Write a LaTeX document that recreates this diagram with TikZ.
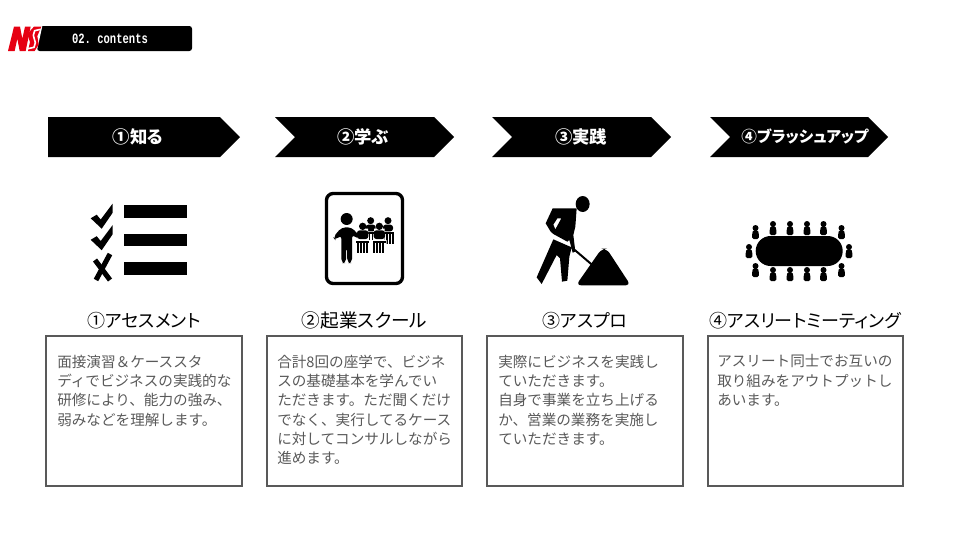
\documentclass[tikz,border=0pt]{standalone}
\usepackage{fontspec}
\setmonofont{Liberation Mono}
\newfontfamily\jpfont[RawFeature=+palt]{Noto Sans CJK JP}
\newfontfamily\jpbody{Noto Sans CJK JP}
\definecolor{boxgray}{HTML}{595959}
\definecolor{logored}{HTML}{E60012}
\tikzset{
  stepbar/.style={fill=black},
  steptitle/.style={text=white,font=\jpfont\fontsize{13pt}{15pt}\selectfont\bfseries},
  headline/.style={font=\jpfont\fontsize{13.5pt}{16pt}\selectfont},
  bodybox/.style={draw=boxgray,line width=1.5pt},
  bodytext/.style={anchor=north west,align=left,text=boxgray,inner sep=0pt,
    font=\jpbody\fontsize{10.95pt}{14.5pt}\selectfont},
  icon/.style={fill=black},
  mark line/.style={draw=black,line width=3.8pt},
  zoomed/.style={x=0.25pt,y=-0.25pt}
}
% small person at the table: x, head y
\newcommand{\seat}[2]{
  \fill[icon] (#1,#2) circle (3);
  \fill[icon,rounded corners=1pt] (#1-2.3,#2+2.2) -- (#1+2.3,#2+2.2) -- (#1+3.3,#2+5) -- (#1+3.3,#2+11) -- (#1-3.3,#2+11) -- (#1-3.3,#2+5) -- cycle;
}
\begin{document}
\begin{tikzpicture}[x=0.75pt,y=-0.75pt]
  \useasboundingbox (0,0) rectangle (960,536);
  % header
  \fill[black,rounded corners=2pt] (37,26) rectangle (192,51);
  \begin{scope}[shift={(4,22)},zoomed]
    \fill[white] (60,90) -- (78,12) -- (115,12) -- (98,90) -- cycle;
    \fill[logored] (12,87) -- (30,14) -- (48,14) -- (55,50) -- (63,14) -- (80,14) -- (65,87) -- (47,87) -- (40,50) -- (32,87) -- cycle;
    \fill[logored] (72,87) -- (92,87) -- (104,68) -- (100,42) -- (112,14) -- (90,14) -- (70,36) -- (78,60) -- cycle;
    \draw[white,line width=1.2pt] (110,22) -- (92,26) -- (88,40) -- (94,62) -- (90,76) -- (72,80);
  \end{scope}
  \node[text=white,font=\ttfamily\bfseries\fontsize{7.9pt}{9pt}\selectfont] (header) at (110,38.5) {\scalebox{1}[1.35]{02. contents}};
  % arrows
  \path[stepbar] (48,117) -- (220,117) -- (240,137) -- (220,157) -- (48,157) -- cycle;
  \path[stepbar] (275,117) -- (434,117) -- (454,137) -- (434,157) -- (275,157) -- (295,137) -- cycle;
  \path[stepbar] (492,117) -- (651,117) -- (671,137) -- (651,157) -- (492,157) -- (512,137) -- cycle;
  \path[stepbar] (710,117) -- (868,117) -- (888,137) -- (868,157) -- (710,157) -- (730,137) -- cycle;
  \node[steptitle] (stepa) at (138,137) {①知る};
  \node[steptitle] (stepb) at (363,137) {②学ぶ};
  \node[steptitle] (stepc) at (581,137) {③実践};
  \node[steptitle,font=\jpfont\fontsize{11.7pt}{13pt}\selectfont\bfseries] (stepd) at (805,136) {④ブラッシュアップ};
  % checklist icon
  \fill[icon] (124.3,205) rectangle (187.3,217.7);
  \fill[icon] (124.3,233.7) rectangle (187.3,246.3);
  \fill[icon] (124.3,262.3) rectangle (187.3,275);
  \foreach \dy in {0,21.5}
    \fill[icon,shift={(0,\dy)}] (90.7,218.3) -- (96.7,214.7) -- (100.7,219.5) -- (112.7,203.5) -- (112.7,212.7) -- (101.7,228.7) -- cycle;
  \draw[mark line] (110,254) -- (96,280);
  \draw[mark line] (95,260) -- (110,280);
  % classroom icon
  \draw[black,line width=2.5pt,rounded corners=5pt] (326.5,193.5) rectangle (402.5,283.5);
  \begin{scope}[shift={(330,208)},zoomed]
    \fill[icon] (50,33) circle (18);
    \fill[icon,rounded corners=3pt] (35,58) -- (65,58) -- (92,88) -- (85,95) -- (66,78) -- (66,165) -- (52,165) -- (51,115) -- (49,115) -- (48,165) -- (34,165) -- (34,80) -- (17,97) -- (9,88) -- cycle;
    \foreach \hx in {122,174} {
      \fill[icon] (\hx,38) circle (10.5);
      \fill[icon,rounded corners=2pt] (\hx-15,50) rectangle (\hx+15,70);
      \fill[icon] (\hx-18,73) rectangle (\hx+18,78);
      \foreach \lx in {-15,-6,3,12}
        \fill[icon] (\hx+\lx,78) rectangle (\hx+\lx+5,108);
    }
    \foreach \hx in {98,148} {
      \fill[white] (\hx-16,62) rectangle (\hx+16,96) (\hx-22,96) rectangle (\hx+22,140);
      \fill[icon] (\hx,55) circle (11);
      \fill[icon,rounded corners=2pt] (\hx-17,67) rectangle (\hx+17,93);
      \fill[icon] (\hx-20,99) rectangle (\hx+20,105);
      \foreach \lx in {-18,-9,0,9}
        \fill[icon] (\hx+\lx,105) rectangle (\hx+\lx+6,134);
    }
  \end{scope}
  % worker icon
  \begin{scope}[shift={(530,190)},zoomed]
    \fill[icon] (158,42) ellipse (21 and 24);
    \fill[icon,even odd rule] (68,55) -- (140,55) -- (136,110) -- (130,135) -- (136,185) -- (128,188) -- (118,150) -- (112,155) -- (70,132) -- (62,125) -- (47,100) -- cycle
      (82,85) -- (94,85) -- (76,118) -- (70,104) -- cycle;
    \fill[icon] (70,148) -- (125,172) -- (118,200) -- (112,272) -- (96,275) -- (90,205) -- (80,195) -- (35,282) -- (20,262) -- cycle;
    \draw[black,line width=1.5pt] (125,172) -- (187,225);
    \fill[icon,rounded corners=4pt] (138,286) -- (215,176) -- (230,176) -- (302,286) -- cycle;
  \end{scope}
  % meeting icon
  \fill[icon,rounded corners=11.2pt] (755.7,236) rectangle (842.7,266);
  \foreach \sx in {773,790,807,823.5} {
    \seat{\sx}{224}
    \seat{\sx}{270}
  }
  \foreach \sx in {755.5,841.5} {
    \seat{\sx}{228}
    \seat{\sx}{266}
  }
  \seat{749}{247}
  \seat{849}{247}
  % text
  \node[headline] (heada) at (144,320.5) {①アセスメント};
  \node[headline,font=\jpfont\fontsize{14pt}{16pt}\selectfont] (headb) at (364.5,320.5) {②起業スクール};
  \node[headline] (headc) at (585,320.5) {③アスプロ};
  \node[headline] (headd) at (805,320.5) {④アスリートミーティング};
  \draw[bodybox] (46,336) rectangle (242,486);
  \draw[bodybox] (267,336) rectangle (462,486);
  \draw[bodybox] (487,336) rectangle (683,486);
  \draw[bodybox] (708,336) rectangle (903,486);
  \node[bodytext] (texta) at (57,354.5) {面接演習＆ケーススタ\\ディでビジネスの実践的な\\研修により、能力の強み、\\弱みなどを理解します。};
  \node[bodytext] (textb) at (277,354.5) {合計8回の座学で、ビジネ\\スの基礎基本を学んでい\\ただきます。ただ聞くだけ\\でなく、実行してるケース\\に対してコンサルしながら\\進めます。};
  \node[bodytext] (textc) at (498,354.5) {実際にビジネスを実践し\\ていただきます。\\自身で事業を立ち上げる\\か、営業の業務を実施し\\ていただきます。};
  \node[bodytext] (textd) at (717,354.5) {アスリート同士でお互いの\\取り組みをアウトプットし\\あいます。};
\end{tikzpicture}
\end{document}
